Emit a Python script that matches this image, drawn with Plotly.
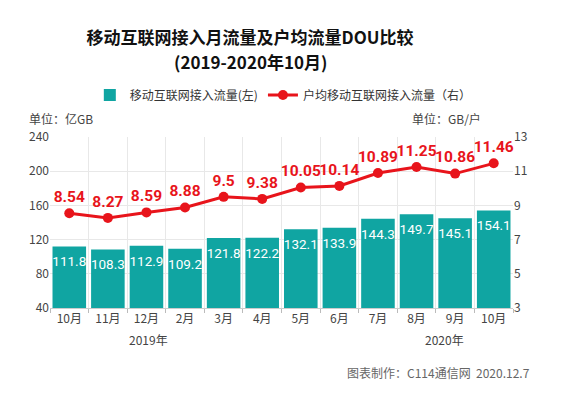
import plotly.graph_objects as go

months = ["10月", "11月", "12月", "2月", "3月", "4月", "5月", "6月", "7月", "8月", "9月", "10月"]
traffic = [111.8, 108.3, 112.9, 109.2, 121.8, 122.2, 132.1, 133.9, 144.3, 149.7, 145.1, 154.1]
traffic_labels = ["111.8", "108.3", "112.9", "109.2", "121.8", "122.2", "132.1", "133.9", "144.3", "149.7", "145.1", "154.1"]
dou = [8.54, 8.27, 8.59, 8.88, 9.5, 9.38, 10.05, 10.14, 10.89, 11.25, 10.86, 11.46]
dou_labels = ["8.54", "8.27", "8.59", "8.88", "9.5", "9.38", "10.05", "10.14", "10.89", "11.25", "10.86", "11.46"]

TEAL = "#10a5a2"
RED = "#e8141b"
FONT = "Noto Sans CJK SC"
NUMFONT = "Roboto"

xs = list(range(len(months)))

fig = go.Figure()
fig.add_trace(go.Bar(
    x=xs, y=traffic, name="移动互联网接入流量(左)",
    marker=dict(color=TEAL, line=dict(width=0)),
    hoverinfo="skip",
))
fig.add_trace(go.Scatter(
    x=xs, y=traffic, mode="markers+text", text=traffic_labels,
    marker=dict(size=14, opacity=0),
    textposition="bottom center", showlegend=False, hoverinfo="skip",
    textfont=dict(color="white", size=13.5, family=NUMFONT),
    cliponaxis=False,
))
fig.add_trace(go.Scatter(
    x=xs, y=dou, name="户均移动互联网接入流量（右）", yaxis="y2",
    mode="lines+markers+text",
    line=dict(color=RED, width=3),
    marker=dict(color=RED, size=10),
    text=dou_labels, textposition="top center",
    textfont=dict(color=RED, size=15.5, family=NUMFONT, weight="bold"),
    cliponaxis=False, hoverinfo="skip",
))

fig.update_layout(
    width=561, height=397,
    margin=dict(l=50, r=48, t=137, b=89),
    paper_bgcolor="white", plot_bgcolor="white",
    font=dict(family=FONT, color="#444", size=12),
    bargap=0.13,
    title=dict(
        text="<b>移动互联网接入月流量及户均流量DOU比较</b>",
        x=250/561, xanchor="center", xref="container",
        y=1-38/397, yanchor="middle", yref="container",
        font=dict(size=17, color="#111", family=FONT),
    ),
    legend=dict(
        orientation="h", x=0.086, xanchor="left", y=1.246, yanchor="middle",
        font=dict(size=12, color="#333"), itemwidth=30, traceorder="normal",
    ),
    xaxis=dict(
        range=[-0.5, 11.5], tickvals=xs, ticktext=months,
        showgrid=False, zeroline=False,
        showline=True, linecolor="#ccc", linewidth=1,
        ticks="", tickfont=dict(size=12, color="#444"),
        minor=dict(tickvals=[i - 0.5 for i in range(13)], showgrid=True,
                   gridcolor="#e8e8e8", gridwidth=1, ticks="outside",
                   ticklen=4, tickcolor="#bbb"),
    ),
    yaxis=dict(
        range=[40, 240], dtick=40, tick0=40, showgrid=True, gridcolor="#e8e8e8",
        zeroline=False, showline=False, tickfont=dict(size=12, color="#444"),
    ),
    yaxis2=dict(
        range=[3, 13], dtick=2, tick0=3, overlaying="y", side="right",
        showgrid=False, zeroline=False, showline=False,
        tickfont=dict(size=12, color="#444"),
    ),
    annotations=[
        dict(text="<b>(2019-2020年10月)</b>", xref="paper", yref="paper",
             x=(250 - 50) / 463, y=(308 - 61) / 171,
             xanchor="center", yanchor="middle", showarrow=False,
             font=dict(size=17, color="#111", family=FONT)),
        dict(text="单位：亿GB", xref="paper", yref="paper", x=-0.05, y=1.11,
             xanchor="left", yanchor="middle", showarrow=False,
             font=dict(size=12, color="#444")),
        dict(text="单位：GB/户", xref="paper", yref="paper", x=0.935, y=1.11,
             xanchor="right", yanchor="middle", showarrow=False,
             font=dict(size=12, color="#444")),
        dict(text="2019年", xref="x", yref="paper", x=2.04, y=-0.187,
             xanchor="center", yanchor="middle", showarrow=False,
             font=dict(size=12, color="#444")),
        dict(text="2020年", xref="x", yref="paper", x=9.73, y=-0.187,
             xanchor="center", yanchor="middle", showarrow=False,
             font=dict(size=12, color="#444")),
        dict(text="图表制作：C114通信网  2020.12.7", xref="paper", yref="paper",
             x=1.041, y=-0.38, xanchor="right", yanchor="middle", showarrow=False,
             font=dict(size=12, color="#666")),
    ],
)

fig.write_html("out.html", config={"displayModeBar": False},
               post_script="document.body.style.margin='0px';")
